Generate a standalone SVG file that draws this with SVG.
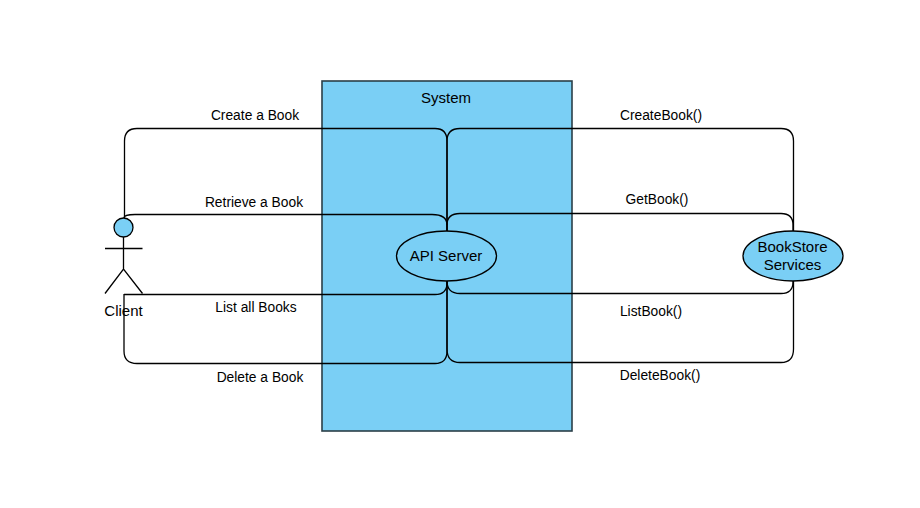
<svg xmlns="http://www.w3.org/2000/svg" width="920" height="508" viewBox="0 0 920 508">
<style>
text{font-family:"Liberation Sans",Arial,sans-serif;font-size:13.8px;fill:#000;text-anchor:middle}
text.b{font-size:15px}
.c{fill:none;stroke:#000;stroke-width:1.3}
.n{fill:#7acff5;stroke:#000;stroke-width:1.3}
.a{fill:none;stroke:#000;stroke-width:1.3}
</style>
<rect width="920" height="508" fill="#fff"/>
<g id="system"><rect x="322" y="81" width="250" height="350" fill="#7acff5" stroke="#2b3f48" stroke-width="1.6"/><text class="b" x="446" y="103">System</text></g>
<g id="connectors">
<path class="c" d="M124.500 218V141Q124.500 128.500 137 128.500H435Q447 128.500 447 141V232"/>
<path class="c" d="M124 218Q124 214.500 135 214.500H432Q447 214.500 447 225V232"/>
<path class="c" d="M124 294.500H435Q447 294.500 447 283V281"/>
<path class="c" d="M124 294V351Q124 363.500 137 363.500H435Q447 363.500 447 351V281"/>
<path class="c" d="M447 232V141Q447 128.500 460 128.500H781Q793.500 128.500 793.500 141V232"/>
<path class="c" d="M447 225Q447 213.500 460 213.500H781Q793 213.500 793 225V232"/>
<path class="c" d="M447 281Q447 293.500 460 293.500H781Q793 293.500 793 282V281"/>
<path class="c" d="M447 281V349Q447 362.500 460 362.500H781Q793.500 362.500 793.500 349V281"/>
</g>
<g id="client">
<circle class="n" cx="123.500" cy="227.500" r="9.500"/>
<path class="a" d="M123.500 237V269M105 248.500H142.500M105 293.500L123.500 269L142.500 293.500"/>
<text class="b" x="123.500" y="316">Client</text>
</g>
<g id="api-server"><ellipse class="n" cx="446.500" cy="256" rx="50" ry="25"/><text class="b" x="446" y="261">API Server</text></g>
<g id="bookstore-services"><ellipse class="n" cx="793" cy="256" rx="50" ry="25"/><text class="b" x="792.500" y="252">BookStore</text><text class="b" x="792.500" y="270">Services</text></g>
<g id="labels">
<text x="255" y="120">Create a Book</text>
<text x="254" y="207">Retrieve a Book</text>
<text x="256" y="312">List all Books</text>
<text x="260" y="382">Delete a Book</text>
<text x="661" y="120">CreateBook()</text>
<text x="657" y="204">GetBook()</text>
<text x="651" y="316">ListBook()</text>
<text x="660" y="380">DeleteBook()</text>
</g>
</svg>
